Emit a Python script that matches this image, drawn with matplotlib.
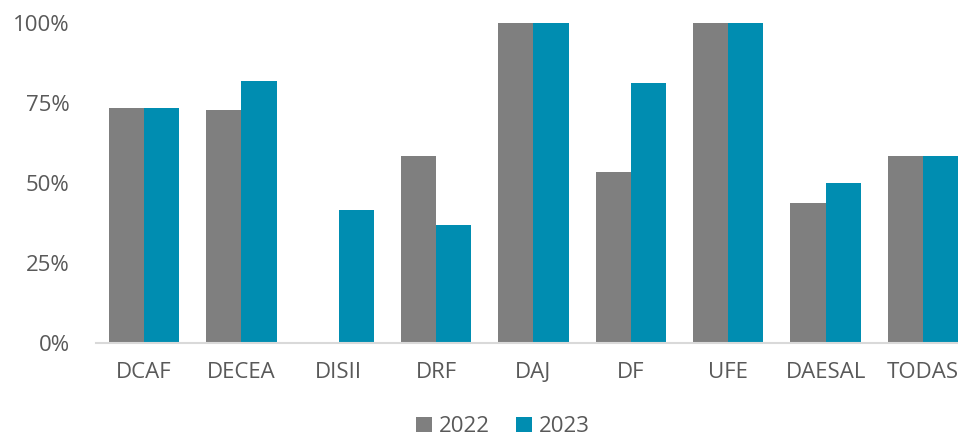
import matplotlib.pyplot as plt
import numpy as np

categorias = ["DCAF", "DECEA", "DISII", "DRF", "DAJ", "DF", "UFE", "DAESAL", "TODAS"]
val_2022 = [0.733, 0.727, 0.0, 0.583, 1.0, 0.533, 1.0, 0.4375, 0.584]
val_2023 = [0.733, 0.818, 0.417, 0.368, 1.0, 0.8125, 1.0, 0.50, 0.584]
series = ["2022", "2023"]
cores = ["#7f7f7f", "#008db1"]
cor_texto = "#595959"

plt.rcParams['font.family'] = ['Open Sans', 'DejaVu Sans']

fig = plt.figure(figsize=(9.58, 4.37), dpi=100)
ax = fig.add_axes([96 / 958, 1 - 343 / 437, 1 - 96 / 958, (343 - 23) / 437])

x = np.arange(len(categorias))
w = 0.362
ax.bar(x - w / 2, val_2022, w, color=cores[0], label=series[0], linewidth=0)
ax.bar(x + w / 2, val_2023, w, color=cores[1], label=series[1], linewidth=0)

ax.set_xlim(-0.493, 8.36)
ax.set_ylim(0, 1)
ax.set_yticks([0, 0.25, 0.5, 0.75, 1.0])
ax.set_yticklabels(["0%", "25%", "50%", "75%", "100%"])
ax.set_xticks(x)
ax.set_xticklabels(categorias)

for s in ["top", "right", "left"]:
    ax.spines[s].set_visible(False)
ax.spines["bottom"].set_color("#d9d9d9")
ax.spines["bottom"].set_linewidth(1.5)
ax.tick_params(axis="both", length=0, labelsize=16, colors=cor_texto)
ax.tick_params(axis="y", pad=19)
ax.tick_params(axis="x", pad=14)

fig.legend(loc="lower center", bbox_to_anchor=(0.525, -0.046), ncol=2, frameon=False,
           fontsize=16, labelcolor=cor_texto, handlelength=0.7, handleheight=0.7,
           handletextpad=0.3, columnspacing=1.2)

fig.savefig("out.png", dpi=100)
